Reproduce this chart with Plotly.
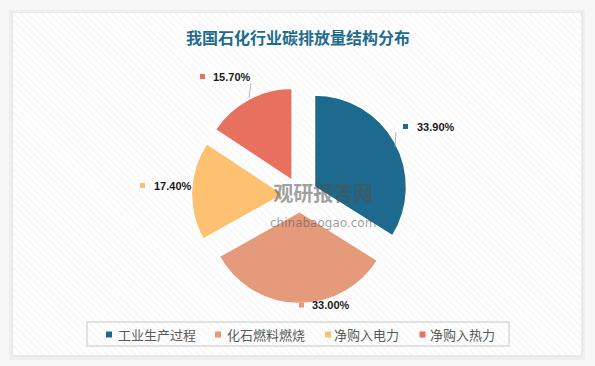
import plotly.graph_objects as go

# ---- data ----
categories = ["工业生产过程", "化石燃料燃烧", "净购入电力", "净购入热力"]
shares = [33.9, 33.0, 17.4, 15.7]
colors = ["#1d6a8e", "#e59b7b", "#fec172", "#e8705f"]
title_text = "我国石化行业碳排放量结构分布"

W, H = 595, 366
fig = go.Figure()

# panel with diagonal hatch
px0, py0, px1, py1 = 13, 13, 581, 355
fig.add_trace(go.Scatter(
    x=[px0, px1, px1, px0, px0], y=[py0, py0, py1, py1, py0],
    fill="toself", mode="none", fillcolor="white",
    fillpattern=dict(shape="\\", fgcolor="#ebebeb", bgcolor="white", size=5, solidity=0.25),
    hoverinfo="skip", showlegend=False))

# pie
cx, cy, ext = 300, 195, 108.6
fig.add_trace(go.Pie(
    labels=categories, values=shares, sort=False, direction="clockwise", rotation=0,
    marker=dict(colors=colors, line=dict(color="white", width=1.5)),
    pull=[0.18] * len(shares), textinfo="none", hoverinfo="label+percent",
    domain=dict(x=[(cx - ext) / W, (cx + ext) / W], y=[1 - (cy + ext) / H, 1 - (cy - ext) / H]),
    showlegend=False))

shapes = [
    # shadow behind the panel
    dict(type="rect", xref="x", yref="y", x0=px0 - 4, y0=py0 - 3, x1=px1 + 4, y1=py1 + 5,
         line=dict(width=0), fillcolor="#efefef", layer="below"),
    dict(type="rect", xref="x", yref="y", x0=px0 - 2, y0=py0 - 1, x1=px1 + 2, y1=py1 + 2,
         line=dict(width=0), fillcolor="#e8e8e8", layer="below"),
    # legend frame
    dict(type="rect", xref="x", yref="y", x0=87, y0=322, x1=509, y1=346,
         line=dict(color="#d9d9d9", width=1.5), fillcolor="rgba(0,0,0,0)"),
    # leader lines
    dict(type="line", xref="x", yref="y", x0=396, y0=132, x1=395, y1=147,
         line=dict(color="#a6a6a6", width=0.8)),
    dict(type="line", xref="x", yref="y", x0=251, y0=83, x1=249, y1=98,
         line=dict(color="#a6a6a6", width=0.8)),
]

annotations = [
    dict(text="<b>" + title_text + "</b>", x=297.5, y=37, xref="x", yref="y", showarrow=False,
         font=dict(family="Noto Sans CJK SC", size=16, color="#1f6b8e"), xanchor="center", yanchor="middle"),
    dict(text="<b>观研报告网</b><br><span style='font-size:12px;font-family:DejaVu Sans'>chinabaogao.com</span>",
         x=323, y=204, xref="x", yref="y", showarrow=False,
         font=dict(family="Noto Sans CJK SC", size=20, color="rgba(80,80,80,0.55)"),
         xanchor="center", yanchor="middle"),
]

# data labels
label_pos = [(405.5, 126.5, 415), (301.5, 305, 310), (142.5, 185.5, 151.5), (202.5, 76.5, 210.5)]
for val, col, (sx, sy, tx) in zip(shares, colors, label_pos):
    shapes.append(dict(type="rect", xref="x", yref="y", x0=sx - 2.5, y0=sy - 2.5, x1=sx + 2.5, y1=sy + 2.5,
                       line=dict(width=0), fillcolor=col))
    annotations.append(dict(text="<b>%.2f%%</b>" % val, x=tx, y=sy, xref="x", yref="y", showarrow=False,
                            xanchor="left", yanchor="middle",
                            font=dict(family="Liberation Sans", size=11, color="#1a1a1a")))

# legend entries
leg_sq = [109, 218, 328, 422.5]
leg_tx = [116, 225, 332, 428]
for name, col, sx, tx in zip(categories, colors, leg_sq, leg_tx):
    shapes.append(dict(type="rect", xref="x", yref="y", x0=sx - 3, y0=331.5, x1=sx + 3, y1=337.5,
                       line=dict(width=0), fillcolor=col))
    annotations.append(dict(text=name, x=tx, y=334, xref="x", yref="y", showarrow=False,
                            xanchor="left", yanchor="middle",
                            font=dict(family="Noto Sans CJK SC", size=13, color="#595959")))

fig.update_layout(
    width=W, height=H, margin=dict(l=0, r=0, t=0, b=0),
    paper_bgcolor="#f7f7f7", plot_bgcolor="rgba(0,0,0,0)",
    xaxis=dict(range=[0, W], visible=False, fixedrange=True, domain=[0, 1]),
    yaxis=dict(range=[H, 0], visible=False, fixedrange=True, domain=[0, 1]),
    shapes=shapes, annotations=annotations, showlegend=False,
)

fig.write_html("out.html")
